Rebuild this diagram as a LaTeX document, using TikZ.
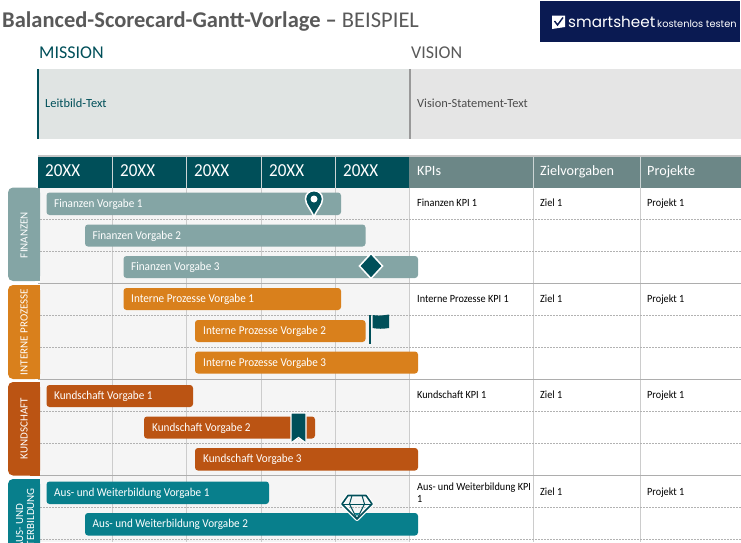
\documentclass[tikz,border=0pt]{standalone}
\usepackage{fontspec}
\setmainfont{Carlito}
\newfontfamily\logofont{Poppins}
\newfontfamily\tallfont[FakeStretch=0.93]{Carlito}
\usetikzlibrary{backgrounds}

\definecolor{tealdark}{HTML}{004F59}
\definecolor{tealgrey}{HTML}{6C8787}
\definecolor{finanzen}{HTML}{84A5A5}
\definecolor{prozesse}{HTML}{D9801C}
\definecolor{kundschaft}{HTML}{BB5413}
\definecolor{bildung}{HTML}{087F8C}
\definecolor{logoblue}{HTML}{0A1A52}
\definecolor{missionbox}{HTML}{E0E4E3}
\definecolor{visionbox}{HTML}{E5E5E5}

\tikzset{
    bartext/.style={text=white, anchor=base west, inner sep=0pt, font=\tallfont\fontsize{12}{14}\selectfont},
    bar/.style={rounded corners=3pt},
    side/.style={rounded corners=5pt},
    sidetext/.style={text=white, rotate=90, align=center, inner sep=0pt, font=\fontsize{11}{11}\selectfont},
    headtext/.style={text=white, anchor=base west, inner sep=0pt, font=\fontsize{14.2}{16}\selectfont},
    yeartext/.style={text=white, anchor=base west, inner sep=0pt, font=\tallfont\fontsize{18.3}{20}\selectfont},
    celltext/.style={text=black, anchor=base west, inner sep=0pt, font=\tallfont\fontsize{11}{12.5}\selectfont},
    gridline/.style={draw=black!20, line width=0.8pt},
    headline/.style={draw=white!65!tealgrey, line width=0.8pt},
    rowline/.style={draw=black!30, line width=0.6pt, dash pattern=on 2pt off 1pt},
    sepline/.style={draw=black!32, line width=1.3pt}
}

\begin{document}
\begin{tikzpicture}[x=1pt,y=-1pt]
    \useasboundingbox (0,0) rectangle (741,542);
    \clip (0,0) rectangle (741,542);

    % Title and logo
    \node[anchor=base west, inner sep=0pt, text=black!65, font=\fontsize{22.5}{24}\selectfont] (title) at (2,27) {\textbf{Balanced-Scorecard-Gantt-Vorlage –} BEISPIEL};
    \fill[logoblue] (540,1) rectangle (740,42);
    \fill[white] (552,15.5) -- (565,15.5) -- (565,27) -- (552,29) -- cycle;
    \draw[logoblue, line width=1.4pt] (554.5,21) -- (557.5,25) -- (563,17.5);
    \node[anchor=base west, inner sep=0pt, text=white, font=\logofont\fontsize{15.2}{18}\selectfont] (logo) at (568,27) {smartsheet};
    \node[anchor=base west, inner sep=0pt, text=white, font=\logofont\fontsize{9.8}{12}\selectfont] (logotext) at (657,27) {kostenlos testen};

    % Mission and vision
    \node[anchor=west, inner sep=0pt, text=tealdark, font=\fontsize{18}{20}\selectfont] (mission) at (39,53) {MISSION};
    \node[anchor=west, inner sep=0pt, text=black!65, font=\fontsize{18}{20}\selectfont] (vision) at (411,53) {VISION};
    \fill[missionbox] (37,69) rectangle (410,139);
    \fill[visionbox] (410,69) rectangle (741,139);
    \fill[tealdark] (37,69) rectangle (39,139);
    \fill[black!40] (409,69) rectangle (411,139);
    \node[anchor=west, inner sep=0pt, text=tealdark, font=\fontsize{12.4}{14}\selectfont] (leitbild) at (45,103) {Leitbild-Text};
    \node[anchor=west, inner sep=0pt, text=black!70, font=\fontsize{12.4}{14}\selectfont] (statement) at (417,103) {Vision-Statement-Text};

    % Header row
    \fill[black!22] (38,154.5) rectangle (741,157.5);
    \fill[tealdark] (38,157) rectangle (409,187.5);
    \fill[tealgrey] (409,157) rectangle (741,187.5);
    \draw[headline] (112,157) -- (112,187.5);
    \draw[headline] (186,157) -- (186,187.5);
    \draw[headline] (261,157) -- (261,187.5);
    \draw[headline] (335,157) -- (335,187.5);
    \draw[headline] (533,157) -- (533,187.5);
    \draw[headline] (640,157) -- (640,187.5);
    \node[yeartext] (year1) at (45,176.5) {20XX};
    \node[yeartext] (year2) at (120,176.5) {20XX};
    \node[yeartext] (year3) at (194,176.5) {20XX};
    \node[yeartext] (year4) at (269,176.5) {20XX};
    \node[yeartext] (year5) at (343,176.5) {20XX};
    \node[headtext] (kpis) at (417,175) {KPIs};
    \node[headtext] (ziele) at (540,175) {Zielvorgaben};
    \node[headtext] (projekte) at (647,175) {Projekte};

    \begin{scope}[on background layer]
        \fill[black!4] (40,188) rectangle (409,542);

        % Draw grid
        \draw[gridline] (112,188) -- (112,542);
        \draw[gridline] (186,188) -- (186,542);
        \draw[gridline] (261,188) -- (261,542);
        \draw[gridline] (335,188) -- (335,542);
        \draw[gridline] (409,188) -- (409,542);
        \draw[gridline] (533,188) -- (533,542);
        \draw[gridline] (640,188) -- (640,542);

        \draw[rowline] (40,219.5) -- (741,219.5);
        \draw[rowline] (40,251.5) -- (741,251.5);
        \draw[rowline] (40,315.5) -- (741,315.5);
        \draw[rowline] (40,347.5) -- (741,347.5);
        \draw[rowline] (40,411.5) -- (741,411.5);
        \draw[rowline] (40,443.5) -- (741,443.5);
        \draw[rowline] (40,507.5) -- (741,507.5);
        \draw[rowline] (40,539.5) -- (741,539.5);

        \draw[sepline] (38,283.5) -- (741,283.5);
        \draw[sepline] (38,379.5) -- (741,379.5);
        \draw[sepline] (38,475.5) -- (741,475.5);
    \end{scope}

    % Side labels
    \fill[finanzen, side] (8,187.5) -- (40,187.5) -- (40,281) -- (8,281) -- cycle;
    \fill[prozesse, side] (8,285) -- (40,285) -- (40,379) -- (8,379) -- cycle;
    \fill[kundschaft, side] (8,382) -- (40,382) -- (40,475.5) -- (8,475.5) -- cycle;
    \fill[bildung, side] (8,479) -- (40,479) -- (40,580) -- (8,580) -- cycle;
    \fill[finanzen] (30,187.5) rectangle (40,281);
    \fill[prozesse] (30,285) rectangle (40,379);
    \fill[kundschaft] (30,382) rectangle (40,475.5);
    \fill[bildung] (30,479) rectangle (40,580);
    \node[sidetext] (finanzenlabel) at (24,235) {FINANZEN};
    \node[sidetext] (prozesselabel) at (24,332) {INTERNE PROZESSE};
    \node[sidetext] (kundschaftlabel) at (24,428.5) {KUNDSCHAFT};
    \node[sidetext] (bildunglabel) at (25,526) {AUS- UND\\WEITERBILDUNG};

    % Bars
    \fill[finanzen, bar] (46.5,192.5) rectangle (341,215);
    \fill[finanzen, bar] (85,224.5) rectangle (365.5,246.5);
    \fill[finanzen, bar] (123.5,256) rectangle (418,278);
    \fill[prozesse, bar] (123.5,288) rectangle (341,310);
    \fill[prozesse, bar] (195,320) rectangle (365.5,342);
    \fill[prozesse, bar] (195,351.5) rectangle (418,373.5);
    \fill[kundschaft, bar] (46.5,385) rectangle (193,407);
    \fill[kundschaft, bar] (144,416.5) rectangle (315,438.5);
    \fill[kundschaft, bar] (195,448) rectangle (418,470.5);
    \fill[bildung, bar] (46.5,481.5) rectangle (269,504);
    \fill[bildung, bar] (85,513) rectangle (418,535.5);

    \node[bartext] (fin1) at (54,207) {Finanzen Vorgabe 1};
    \node[bartext] (fin2) at (92.5,239) {Finanzen Vorgabe 2};
    \node[bartext] (fin3) at (131,270.5) {Finanzen Vorgabe 3};
    \node[bartext] (pro1) at (131,302.5) {Interne Prozesse Vorgabe 1};
    \node[bartext] (pro2) at (203,334.5) {Interne Prozesse Vorgabe 2};
    \node[bartext] (pro3) at (203,366) {Interne Prozesse Vorgabe 3};
    \node[bartext] (kun1) at (54,399.5) {Kundschaft Vorgabe 1};
    \node[bartext] (kun2) at (152,431) {Kundschaft Vorgabe 2};
    \node[bartext] (kun3) at (203,462.5) {Kundschaft Vorgabe 3};
    \node[bartext] (bil1) at (54,496) {Aus- und Weiterbildung Vorgabe 1};
    \node[bartext] (bil2) at (92.5,527.5) {Aus- und Weiterbildung Vorgabe 2};

    % Table cells
    \node[celltext] (kpi1) at (417,206.5) {Finanzen KPI 1};
    \node[celltext] (ziel1) at (540,206.5) {Ziel 1};
    \node[celltext] (projekt1) at (647,206.5) {Projekt 1};
    \node[celltext] (kpi2) at (417,302.5) {Interne Prozesse KPI 1};
    \node[celltext] (ziel2) at (540,302.5) {Ziel 1};
    \node[celltext] (projekt2) at (647,302.5) {Projekt 1};
    \node[celltext] (kpi3) at (417,398.5) {Kundschaft KPI 1};
    \node[celltext] (ziel3) at (540,398.5) {Ziel 1};
    \node[celltext] (projekt3) at (647,398.5) {Projekt 1};
    \node[celltext, anchor=west, align=left] (kpi4) at (417,492.5) {Aus- und Weiterbildung KPI\\1};
    \node[celltext] (ziel4) at (540,495) {Ziel 1};
    \node[celltext] (projekt4) at (647,495) {Projekt 1};

    % Pin
    \filldraw[tealdark, draw=white, line width=1.5pt] (314,217) .. controls (311,209) and (305.5,205) .. (305.5,199) .. controls (305.5,188) and (322.5,188) .. (322.5,199) .. controls (322.5,205) and (317,209) .. (314,217) -- cycle;
    \fill[white] (314,199) circle (3.5);

    % Diamond
    \filldraw[tealdark, draw=white, line width=1.5pt] (371,253.5) -- (382.5,266) -- (371,278.5) -- (359.5,266) -- cycle;

    % Flag
    \fill[tealdark] (369,315) rectangle (371,344);
    \fill[tealdark] (372.5,315) .. controls (378,316) and (383,315.5) .. (389,314.5) -- (389,328) .. controls (383,329) and (378,329) .. (372.5,328) -- cycle;

    % Bookmark
    \filldraw[tealdark, draw=white, line width=1.2pt] (291,413) -- (306,413) -- (306,443) -- (298.5,437.5) -- (291,443) -- cycle;

    % Gem
    \draw[white, line width=4pt, line join=round] (348,495.5) -- (366,495.5) -- (372,504) -- (357,519) -- (342,504) -- cycle;
    \draw[tealdark, line width=1.6pt, line join=round] (348,495.5) -- (366,495.5) -- (372,504) -- (357,519) -- (342,504) -- cycle;
    \draw[tealdark, line width=1pt] (342,504) -- (372,504);
    \draw[tealdark, line width=1pt] (352,495.5) -- (349.5,504) -- (357,519) -- (364.5,504) -- (362,495.5);
\end{tikzpicture}
\end{document}
